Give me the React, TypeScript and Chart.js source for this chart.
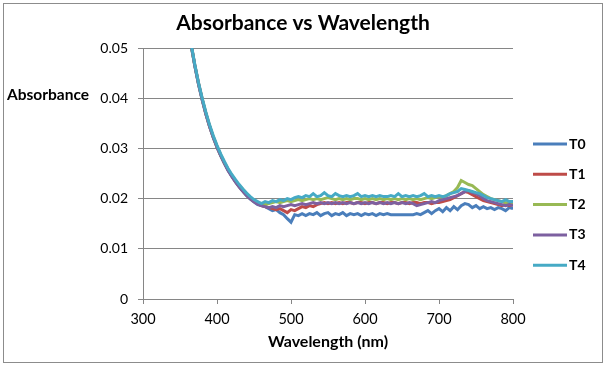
import React, { useEffect, useRef } from "react";
import { Chart, registerables, layouts } from "chart.js";

Chart.register(...registerables);

const wavelengths = [
  360, 365, 370, 375, 380, 385, 390, 395, 400, 405,
  410, 415, 420, 425, 430, 435, 440, 445, 450, 455,
  460, 465, 470, 475, 480, 485, 490, 495, 500, 505,
  510, 515, 520, 525, 530, 535, 540, 545, 550, 555,
  560, 565, 570, 575, 580, 585, 590, 595, 600, 605,
  610, 615, 620, 625, 630, 635, 640, 645, 650, 655,
  660, 665, 670, 675, 680, 685, 690, 695, 700, 705,
  710, 715, 720, 725, 730, 735, 740, 745, 750, 755,
  760, 765, 770, 775, 780, 785, 790, 795, 800,
];

const t0 = [
  0.0560, 0.0505, 0.0465, 0.0428, 0.0396, 0.0368, 0.0343, 0.0321, 0.0302, 0.0285,
  0.0270, 0.0256, 0.0244, 0.0233, 0.0223, 0.0214, 0.0206, 0.0199, 0.0193, 0.0188,
  0.0186, 0.0184, 0.0180, 0.0176, 0.0178, 0.0172, 0.0168, 0.0160, 0.0153, 0.0168,
  0.0166, 0.0170, 0.0166, 0.0170, 0.0168, 0.0172, 0.0166, 0.0170, 0.0172, 0.0166,
  0.0170, 0.0168, 0.0172, 0.0166, 0.0170, 0.0168, 0.0170, 0.0166, 0.0170, 0.0168,
  0.0170, 0.0166, 0.0170, 0.0168, 0.0170, 0.0168, 0.0168, 0.0168, 0.0168, 0.0168,
  0.0168, 0.0168, 0.0170, 0.0168, 0.0172, 0.0176, 0.0170, 0.0176, 0.0180, 0.0174,
  0.0182, 0.0176, 0.0184, 0.0178, 0.0186, 0.0190, 0.0188, 0.0182, 0.0186, 0.0180,
  0.0184, 0.0180, 0.0182, 0.0178, 0.0182, 0.0180, 0.0176, 0.0182, 0.0180,
];

const t1 = [
  0.0565, 0.0508, 0.0466, 0.0430, 0.0398, 0.0369, 0.0344, 0.0322, 0.0303, 0.0286,
  0.0271, 0.0257, 0.0245, 0.0234, 0.0224, 0.0215, 0.0207, 0.0200, 0.0194, 0.0190,
  0.0186, 0.0184, 0.0182, 0.0180, 0.0178, 0.0180, 0.0176, 0.0172, 0.0178, 0.0176,
  0.0180, 0.0184, 0.0182, 0.0186, 0.0184, 0.0188, 0.0190, 0.0192, 0.0190, 0.0192,
  0.0190, 0.0192, 0.0190, 0.0192, 0.0192, 0.0190, 0.0192, 0.0192, 0.0190, 0.0192,
  0.0192, 0.0190, 0.0192, 0.0192, 0.0190, 0.0192, 0.0192, 0.0190, 0.0192, 0.0192,
  0.0190, 0.0192, 0.0192, 0.0190, 0.0192, 0.0192, 0.0190, 0.0192, 0.0192, 0.0194,
  0.0196, 0.0198, 0.0202, 0.0206, 0.0210, 0.0214, 0.0212, 0.0208, 0.0204, 0.0200,
  0.0196, 0.0194, 0.0192, 0.0190, 0.0188, 0.0186, 0.0188, 0.0186, 0.0188,
];

const t2 = [
  0.0562, 0.0506, 0.0465, 0.0429, 0.0398, 0.0370, 0.0345, 0.0323, 0.0304, 0.0287,
  0.0272, 0.0258, 0.0246, 0.0236, 0.0226, 0.0218, 0.0210, 0.0202, 0.0196, 0.0192,
  0.0190, 0.0188, 0.0190, 0.0192, 0.0194, 0.0192, 0.0194, 0.0196, 0.0194, 0.0196,
  0.0198, 0.0196, 0.0198, 0.0200, 0.0198, 0.0200, 0.0198, 0.0200, 0.0202, 0.0200,
  0.0198, 0.0200, 0.0198, 0.0200, 0.0198, 0.0200, 0.0200, 0.0198, 0.0200, 0.0198,
  0.0200, 0.0198, 0.0200, 0.0198, 0.0200, 0.0198, 0.0200, 0.0198, 0.0200, 0.0198,
  0.0200, 0.0198, 0.0200, 0.0198, 0.0200, 0.0202, 0.0200, 0.0202, 0.0204, 0.0202,
  0.0206, 0.0210, 0.0214, 0.0222, 0.0236, 0.0232, 0.0228, 0.0226, 0.0220, 0.0214,
  0.0208, 0.0204, 0.0200, 0.0198, 0.0196, 0.0194, 0.0192, 0.0190, 0.0190,
];

const t3 = [
  0.0563, 0.0507, 0.0464, 0.0428, 0.0397, 0.0369, 0.0344, 0.0322, 0.0303, 0.0286,
  0.0271, 0.0256, 0.0244, 0.0234, 0.0224, 0.0215, 0.0207, 0.0200, 0.0194, 0.0189,
  0.0186, 0.0184, 0.0182, 0.0184, 0.0182, 0.0186, 0.0184, 0.0186, 0.0188, 0.0186,
  0.0188, 0.0190, 0.0188, 0.0190, 0.0192, 0.0190, 0.0192, 0.0190, 0.0192, 0.0190,
  0.0192, 0.0190, 0.0192, 0.0190, 0.0192, 0.0190, 0.0192, 0.0190, 0.0192, 0.0190,
  0.0192, 0.0190, 0.0192, 0.0190, 0.0192, 0.0190, 0.0192, 0.0190, 0.0192, 0.0190,
  0.0192, 0.0190, 0.0186, 0.0188, 0.0190, 0.0192, 0.0194, 0.0192, 0.0196, 0.0198,
  0.0200, 0.0202, 0.0204, 0.0206, 0.0210, 0.0214, 0.0216, 0.0212, 0.0210, 0.0206,
  0.0200, 0.0196, 0.0194, 0.0192, 0.0190, 0.0188, 0.0186, 0.0188, 0.0186,
];

const t4 = [
  0.0566, 0.0509, 0.0467, 0.0431, 0.0400, 0.0372, 0.0347, 0.0325, 0.0306, 0.0289,
  0.0274, 0.0260, 0.0248, 0.0238, 0.0228, 0.0219, 0.0211, 0.0204, 0.0198, 0.0194,
  0.0190, 0.0194, 0.0192, 0.0196, 0.0194, 0.0198, 0.0196, 0.0200, 0.0198, 0.0202,
  0.0204, 0.0202, 0.0206, 0.0204, 0.0210, 0.0204, 0.0206, 0.0212, 0.0206, 0.0204,
  0.0210, 0.0206, 0.0204, 0.0206, 0.0204, 0.0206, 0.0210, 0.0204, 0.0206, 0.0204,
  0.0206, 0.0204, 0.0206, 0.0204, 0.0204, 0.0206, 0.0204, 0.0210, 0.0204, 0.0206,
  0.0204, 0.0206, 0.0204, 0.0206, 0.0210, 0.0204, 0.0206, 0.0204, 0.0206, 0.0204,
  0.0206, 0.0210, 0.0212, 0.0214, 0.0220, 0.0218, 0.0216, 0.0214, 0.0212, 0.0210,
  0.0206, 0.0202, 0.0200, 0.0198, 0.0196, 0.0194, 0.0198, 0.0194, 0.0194,
];

const seriesNames = ["T0", "T1", "T2", "T3", "T4"];
const seriesValues = [t0, t1, t2, t3, t4];
const seriesColors = ["#4A7EBB", "#BE4B48", "#98B954", "#7D60A0", "#46AAC5"];

const xTicks = [300, 400, 500, 600, 700, 800];
const yTicks = [0, 0.01, 0.02, 0.03, 0.04, 0.05];

const chartTitle = "Absorbance vs Wavelength";
const xTitle = "Wavelength (nm)";
const yTitle = "Absorbance";

const FONT = "Lato, 'Open Sans', sans-serif";
const GRID = "#868686";

export default function App() {
  const ref = useRef<HTMLCanvasElement>(null);

  useEffect(() => {
    document.body.style.margin = "0";
    const canvas = ref.current;
    if (!canvas) return;

    const framePlugin = {
      id: "frame",
      beforeDraw(chart: any) {
        const c = chart.ctx;
        c.save();
        c.fillStyle = "#ffffff";
        c.fillRect(0, 0, chart.width, chart.height);
        c.strokeStyle = "#8c8c8c";
        c.lineWidth = 1;
        c.strokeRect(3.5, 3.5, chart.width - 7, chart.height - 7);
        c.restore();
      },
    };

    const yTitlePlugin = {
      id: "yTitleFlat",
      afterDraw(chart: any) {
        const c = chart.ctx;
        const y = chart.scales.y.getPixelForValue(0.04);
        c.save();
        c.font = `bold 15.5px ${FONT}`;
        c.fillStyle = "#000";
        c.textAlign = "left";
        c.textBaseline = "middle";
        c.fillText(yTitle, 7, y - 3);
        c.restore();
      },
    };

    // Legend as a layout box on the right side (reserves space like Chart.js' own legend)
    const makeLegendBox = (chart: any) => {
      const box: any = {
        position: "right",
        weight: 1000,
        fullSize: false,
        options: { stack: undefined, stackWeight: 1 },
        left: 0,
        top: 0,
        right: 0,
        bottom: 0,
        width: 0,
        height: 0,
        isHorizontal() {
          return false;
        },
        update(_maxW: number, maxH: number) {
          this.width = 93;
          this.height = maxH;
        },
        draw() {
          const c = chart.ctx;
          const x0 = this.left + 20;
          const y0 = 144;
          const step = 30.3;
          c.save();
          c.font = `bold 14px ${FONT}`;
          c.textAlign = "left";
          c.textBaseline = "middle";
          chart.data.datasets.forEach((ds: any, i: number) => {
            const y = y0 + i * step;
            c.strokeStyle = ds.borderColor;
            c.lineWidth = 3;
            c.beginPath();
            c.moveTo(x0, y);
            c.lineTo(x0 + 34, y);
            c.stroke();
            c.fillStyle = "#000";
            c.fillText(ds.label, x0 + 36, y);
          });
          c.restore();
        },
      };
      return box;
    };

    const legendPlugin = {
      id: "sideLegend",
      start(chart: any) {
        const box = makeLegendBox(chart);
        chart.$sideLegend = box;
        layouts.addBox(chart, box);
      },
      stop(chart: any) {
        if (chart.$sideLegend) layouts.removeBox(chart, chart.$sideLegend);
      },
    };

    const chart = new Chart(canvas, {
      type: "line",
      data: {
        datasets: seriesNames.map((name, i) => ({
          label: name,
          data: wavelengths.map((w, k) => ({ x: w, y: seriesValues[i][k] })),
          borderColor: seriesColors[i],
          backgroundColor: seriesColors[i],
          borderWidth: 3,
          pointRadius: 0,
          tension: 0,
          fill: false,
          order: seriesNames.length - i,
        })),
      },
      options: {
        responsive: false,
        animation: false,
        layout: { padding: 0 },
        plugins: {
          legend: { display: false },
          tooltip: { enabled: false },
          title: {
            display: true,
            text: chartTitle,
            color: "#000",
            font: { family: FONT, size: 21, weight: "bold" },
            padding: { top: 10.4, bottom: 12.4 },
          },
        },
        scales: {
          x: {
            type: "linear",
            min: 300,
            max: 800,
            afterBuildTicks: (s: any) => {
              s.ticks = xTicks.map((v) => ({ value: v }));
            },
            afterFit: (s: any) => {
              s.height = 67;
            },
            ticks: {
              color: "#000",
              font: { family: FONT, size: 14.5 },
              padding: 7,
              maxRotation: 0,
            },
            grid: {
              display: true,
              drawOnChartArea: false,
              drawTicks: true,
              tickLength: 5,
              color: GRID,
            },
            border: { display: true, color: GRID, width: 1 },
            title: {
              display: true,
              text: xTitle,
              color: "#000",
              font: { family: FONT, size: 16, weight: "bold" },
              padding: { top: 4, bottom: 15 },
            },
          },
          y: {
            type: "linear",
            min: 0,
            max: 0.05,
            afterBuildTicks: (s: any) => {
              s.ticks = yTicks.map((v) => ({ value: v }));
            },
            afterFit: (s: any) => {
              s.width = 143;
            },
            ticks: {
              color: "#000",
              font: { family: FONT, size: 14 },
              padding: 10,
              callback: (v: any) => String(Number(Number(v).toFixed(2))),
            },
            grid: {
              display: true,
              drawTicks: true,
              tickLength: 5,
              color: GRID,
            },
            border: { display: true, color: GRID, width: 1 },
          },
        },
      },
      plugins: [framePlugin, yTitlePlugin, legendPlugin],
    });

    return () => chart.destroy();
  }, []);

  return (
    <div style={{ width: 606, height: 366 }}>
      <canvas ref={ref} width={606} height={366} style={{ display: "block" }} />
    </div>
  );
}
